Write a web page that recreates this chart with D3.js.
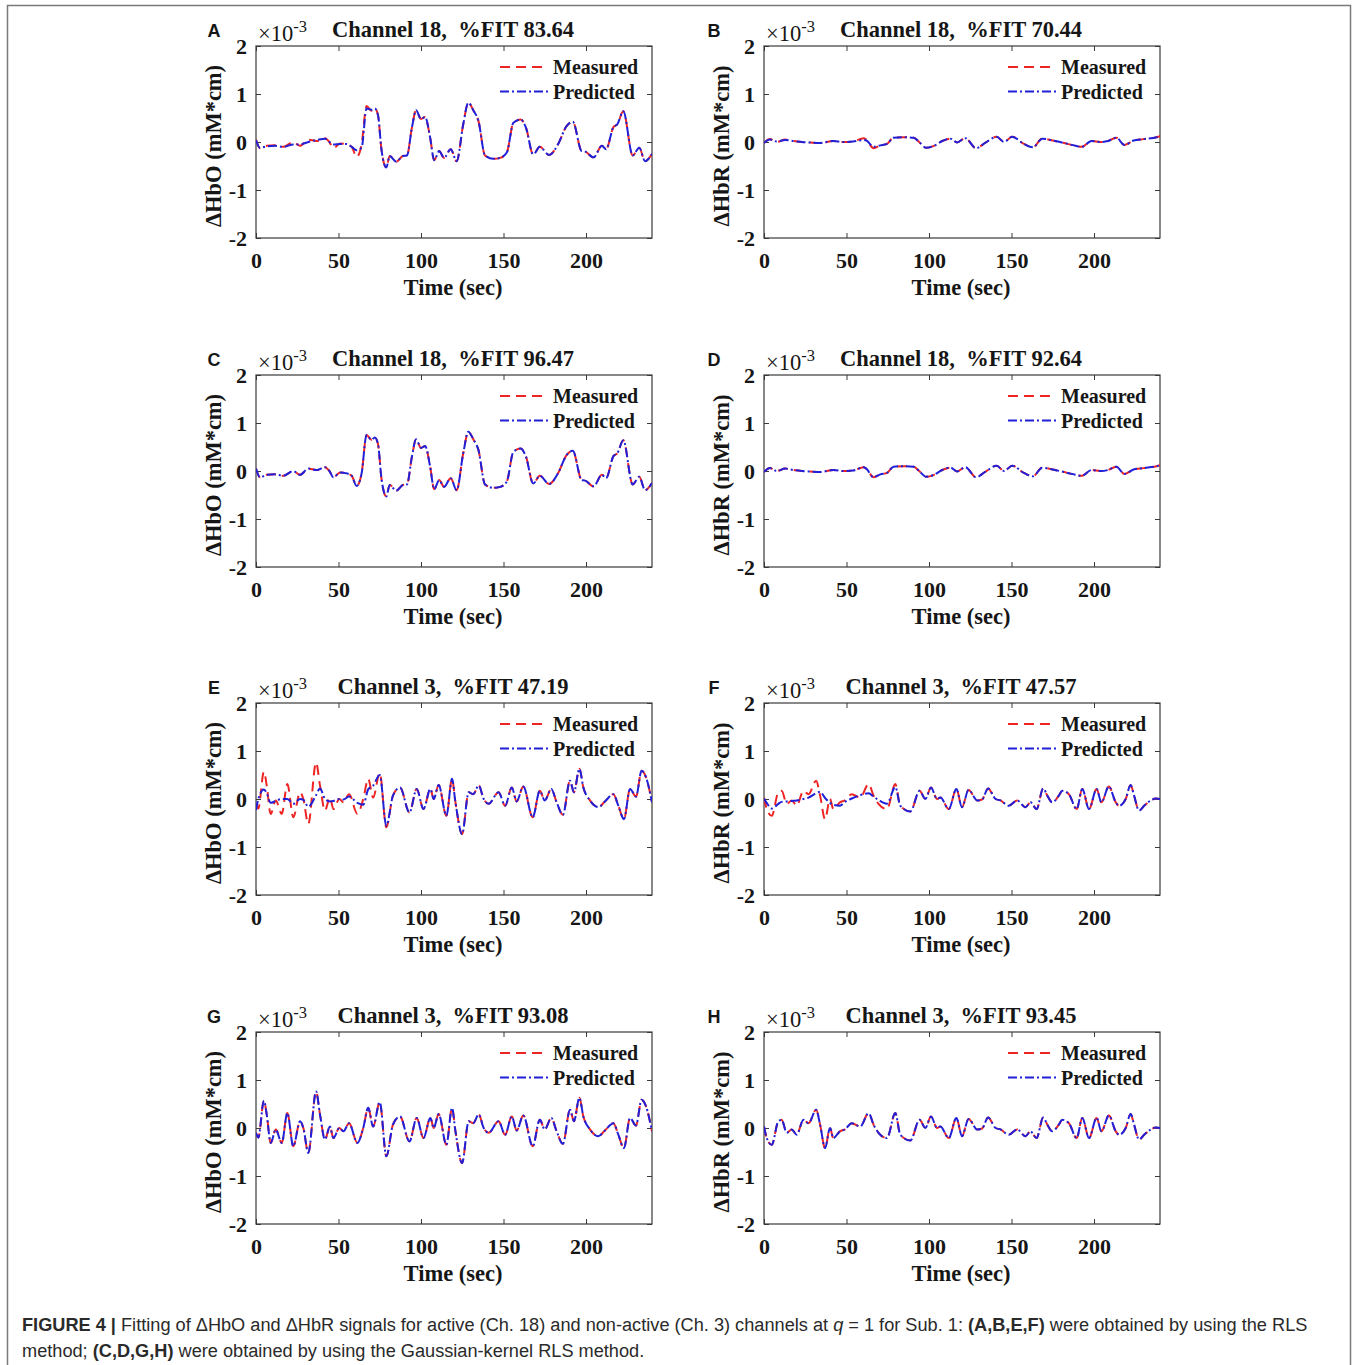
<!DOCTYPE html>
<html><head><meta charset="utf-8">
<script src="https://cdn.jsdelivr.net/npm/d3@7"></script>
<style>body{margin:0;background:#fff} svg{display:block}</style>
</head><body><svg id="c" width="1358" height="1365"></svg>
<script>
// ---------------- DATA ----------------
const xTicks = [0, 50, 100, 150, 200];
const yTicks = [-2, -1, 0, 1, 2];
const seriesNames = ["Measured", "Predicted"];
const panelLetters = ["A", "B", "C", "D", "E", "F", "G", "H"];
const panelTitles = ["Channel 18,  %FIT 83.64", "Channel 18,  %FIT 70.44", "Channel 18,  %FIT 96.47", "Channel 18,  %FIT 92.64",
                     "Channel 3,  %FIT 47.19", "Channel 3,  %FIT 47.57", "Channel 3,  %FIT 93.08", "Channel 3,  %FIT 93.45"];
const yLabels = ["ΔHbO (mM*cm)", "ΔHbR (mM*cm)"];

// Channel 18, ΔHbO (×10^-3)
const ch18HbOTime = [0,2.4,6.5,11.5,16.6,22.6,26.7,31.7,36.8,41.8,44.5,46.9,51,55,58,61,64,67,70,72,74,76,79,81,85,89,91.5,94.5,97,100,102.5,105.5,108,111,114,118,121.6,125.6,128.7,131.7,134.8,138.8,143.8,148,152,156,160.4,163.6,168,172,177.6,183.3,188,192,197.4,199.5,204.6,209.6,212.2,216.6,219,222.6,228.3,232.3,235.8,240];
const ch18HbOMeasured = [0.05,-0.13,-0.08,-0.07,-0.1,0.0,-0.08,0.05,0.02,0.08,0.0,-0.13,-0.03,-0.05,-0.1,-0.31,-0.05,0.75,0.65,0.7,0.55,-0.15,-0.53,-0.29,-0.41,-0.29,-0.28,0.3,0.66,0.48,0.52,0.1,-0.38,-0.19,-0.33,-0.15,-0.4,0.37,0.82,0.66,0.44,-0.28,-0.35,-0.33,-0.22,0.4,0.47,0.3,-0.26,-0.1,-0.27,-0.03,0.32,0.42,-0.19,-0.2,-0.32,-0.08,-0.15,0.31,0.37,0.64,-0.28,-0.12,-0.4,-0.25];
const ch18HbOPredRLS = [0.04,-0.12,-0.09,-0.08,-0.1,-0.05,-0.05,0.0,0.04,0.07,0.0,-0.05,-0.04,-0.04,-0.1,-0.17,-0.12,0.7,0.67,0.7,0.55,-0.15,-0.53,-0.29,-0.41,-0.29,-0.28,0.3,0.66,0.48,0.52,0.1,-0.38,-0.19,-0.33,-0.15,-0.4,0.37,0.82,0.66,0.44,-0.28,-0.35,-0.33,-0.22,0.4,0.47,0.3,-0.26,-0.1,-0.27,-0.03,0.32,0.42,-0.19,-0.2,-0.32,-0.08,-0.15,0.31,0.37,0.64,-0.28,-0.12,-0.4,-0.25];
const ch18HbOPredGK = [0.05,-0.13,-0.08,-0.07,-0.1,0.0,-0.08,0.05,0.02,0.08,0.0,-0.13,-0.03,-0.05,-0.1,-0.31,-0.05,0.75,0.65,0.7,0.55,-0.15,-0.53,-0.29,-0.41,-0.29,-0.28,0.3,0.66,0.48,0.52,0.1,-0.38,-0.19,-0.33,-0.15,-0.4,0.37,0.82,0.66,0.44,-0.28,-0.35,-0.33,-0.22,0.4,0.47,0.3,-0.26,-0.1,-0.27,-0.03,0.32,0.42,-0.19,-0.2,-0.32,-0.08,-0.15,0.31,0.37,0.64,-0.28,-0.12,-0.4,-0.25];

// Channel 18, ΔHbR (×10^-3)
const ch18HbRTime = [0,3.6,7.7,12.8,17.8,23,28,34,42,48,54,60.3,62,66.4,70.5,74.5,78.5,84.6,90.7,94,98.3,103,108,113,117,122,128.5,134,141,145.5,150.4,157.5,163,168.6,175,180.5,186.5,192.5,198.5,204,208.5,213.5,218.5,224,230,238,240];
const ch18HbRMeasured = [-0.02,0.06,0.0,0.05,0.02,0.0,-0.01,-0.02,0.02,0.0,0.01,0.08,0.05,-0.13,-0.07,-0.04,0.09,0.1,0.09,0.0,-0.12,-0.08,0.02,0.07,-0.01,0.08,-0.13,-0.02,0.11,0.0,0.11,-0.04,-0.11,0.07,0.03,-0.01,-0.06,-0.1,0.02,0.0,0.02,0.09,-0.06,0.03,0.06,0.1,0.12];
const ch18HbRPredRLS = [-0.02,0.05,0.01,0.04,0.02,0.0,-0.01,-0.02,0.02,0.0,0.01,0.04,0.03,-0.1,-0.07,-0.04,0.09,0.1,0.09,0.0,-0.12,-0.08,0.02,0.07,-0.01,0.08,-0.13,-0.02,0.11,0.0,0.11,-0.04,-0.11,0.07,0.03,-0.01,-0.06,-0.1,0.02,0.0,0.02,0.09,-0.06,0.03,0.06,0.1,0.12];
const ch18HbRPredGK = [-0.02,0.06,0.0,0.05,0.02,0.0,-0.01,-0.02,0.02,0.0,0.01,0.08,0.05,-0.13,-0.07,-0.04,0.09,0.1,0.09,0.0,-0.12,-0.08,0.02,0.07,-0.01,0.08,-0.13,-0.02,0.11,0.0,0.11,-0.04,-0.11,0.07,0.03,-0.01,-0.06,-0.1,0.02,0.0,0.02,0.09,-0.06,0.03,0.06,0.1,0.12];

// Channel 3, ΔHbO (×10^-3)
const ch3HbOTime = [0,1.4,4.8,6.5,8.9,12,15.6,19,22.6,26.7,28.7,31.7,36.4,38.8,41.8,44.8,46.9,50.5,53,56.4,61.4,65,68,71,75,79,83,87.3,93,97.4,101.5,105.7,107.7,110.7,115.4,118.8,120.8,124.9,128.9,131.6,135,138,141,147,151,155,158,162,167.7,172,175,179,182,186,190.3,192.7,196,198.4,202.4,207.5,211.5,216.6,219.6,223,226.7,230.3,233.7,236.4,240];
const ch3HbOMeasured = [-0.1,-0.2,0.57,0.28,-0.31,-0.03,-0.31,0.31,-0.38,0.14,0.0,-0.52,0.76,0.28,-0.24,0.03,-0.21,0.0,-0.07,0.1,-0.31,0.0,0.42,0.03,0.54,-0.59,0.07,0.24,-0.28,0.21,-0.21,0.21,0.0,0.29,-0.35,0.42,-0.05,-0.73,0.14,0.1,0.28,0.0,-0.1,0.14,-0.14,0.24,-0.05,0.26,-0.38,0.17,-0.03,0.21,-0.05,-0.33,0.38,0.14,0.63,0.24,-0.03,-0.17,-0.05,0.1,-0.14,-0.42,0.21,0.05,0.59,0.45,-0.07];
const ch3HbOPredRLS = [-0.23,0.0,0.2,0.12,-0.08,-0.04,0.0,0.0,-0.1,0.0,-0.02,-0.16,0.08,0.22,0.0,-0.05,-0.04,0.0,-0.01,0.05,-0.08,-0.12,0.2,0.28,0.5,-0.56,0.07,0.24,-0.28,0.21,-0.21,0.21,0.0,0.29,-0.35,0.42,-0.05,-0.73,0.14,0.1,0.28,0.0,-0.1,0.14,-0.14,0.24,-0.05,0.26,-0.38,0.17,-0.03,0.21,-0.05,-0.33,0.38,0.14,0.63,0.24,-0.03,-0.17,-0.05,0.1,-0.14,-0.42,0.21,0.05,0.59,0.45,-0.07];
const ch3HbOPredGK = [-0.1,-0.2,0.57,0.28,-0.31,-0.03,-0.31,0.31,-0.38,0.14,0.0,-0.52,0.76,0.28,-0.24,0.03,-0.21,0.0,-0.07,0.1,-0.31,0.0,0.42,0.03,0.54,-0.59,0.07,0.24,-0.28,0.21,-0.21,0.21,0.0,0.29,-0.35,0.42,-0.05,-0.73,0.14,0.1,0.28,0.0,-0.1,0.14,-0.14,0.24,-0.05,0.26,-0.38,0.17,-0.03,0.21,-0.05,-0.33,0.38,0.14,0.63,0.24,-0.03,-0.17,-0.05,0.1,-0.14,-0.42,0.21,0.05,0.59,0.45,-0.07];

// Channel 3, ΔHbR (×10^-3)
const ch3HbRTime = [0,1.6,4.7,8.7,10.7,13.8,16.8,19.8,23.9,27,31.6,34,37,40,42,46,49,53.2,58.3,63.4,66.4,69.4,74.5,79.6,82.6,88.7,94.3,97.8,101.2,104.9,106.9,112,116.6,120,124,129.2,132.2,135.8,140.3,143.3,148.4,153.4,158.5,161.5,165.2,169.2,171.7,174.7,178.7,180.8,184.8,189.5,192.9,197,201.6,204.5,209,213.2,215.2,219.2,222.2,224.3,227.3,230.4,234.4,237.4,240];
const ch3HbRMeasured = [0.03,-0.2,-0.35,0.14,0.17,-0.1,-0.03,-0.14,0.17,0.1,0.38,0.07,-0.42,0.0,-0.21,-0.07,-0.03,0.1,0.03,0.31,0.07,-0.1,-0.21,0.31,-0.14,-0.26,0.17,0.0,0.24,0.0,0.03,-0.21,0.21,-0.17,0.19,-0.03,-0.01,0.22,0.0,-0.03,-0.14,-0.03,-0.17,-0.07,-0.21,0.22,0.07,-0.07,0.07,0.17,0.1,-0.21,0.21,-0.21,0.21,-0.07,0.26,-0.07,-0.14,0.0,0.29,0.07,-0.24,-0.14,-0.03,0.01,0.0];
const ch3HbRPredRLS = [0.01,-0.08,-0.2,-0.1,-0.06,-0.05,-0.04,-0.03,0.0,0.03,0.12,0.15,0.02,-0.08,-0.12,-0.14,-0.06,0.01,0.08,0.12,0.05,-0.02,-0.1,0.25,-0.14,-0.26,0.17,0.0,0.24,0.0,0.03,-0.21,0.21,-0.17,0.19,-0.03,-0.01,0.22,0.0,-0.03,-0.14,-0.03,-0.17,-0.07,-0.21,0.22,0.07,-0.07,0.07,0.17,0.1,-0.21,0.21,-0.21,0.21,-0.07,0.26,-0.07,-0.14,0.0,0.29,0.07,-0.24,-0.14,-0.03,0.01,0.0];
const ch3HbRPredGK = [0.03,-0.2,-0.35,0.14,0.17,-0.1,-0.03,-0.14,0.17,0.1,0.38,0.07,-0.42,0.0,-0.21,-0.07,-0.03,0.1,0.03,0.31,0.07,-0.1,-0.21,0.31,-0.14,-0.26,0.17,0.0,0.24,0.0,0.03,-0.21,0.21,-0.17,0.19,-0.03,-0.01,0.22,0.0,-0.03,-0.14,-0.03,-0.17,-0.07,-0.21,0.22,0.07,-0.07,0.07,0.17,0.1,-0.21,0.21,-0.21,0.21,-0.07,0.26,-0.07,-0.14,0.0,0.29,0.07,-0.24,-0.14,-0.03,0.01,0.0];

// ---------------- LAYOUT ----------------
const panels = [
  {time: ch18HbOTime, meas: ch18HbOMeasured, pred: ch18HbOPredRLS, col: 0, row: 0, yl: 0},
  {time: ch18HbRTime, meas: ch18HbRMeasured, pred: ch18HbRPredRLS, col: 1, row: 0, yl: 1},
  {time: ch18HbOTime, meas: ch18HbOMeasured, pred: ch18HbOPredGK,  col: 0, row: 1, yl: 0},
  {time: ch18HbRTime, meas: ch18HbRMeasured, pred: ch18HbRPredGK,  col: 1, row: 1, yl: 1},
  {time: ch3HbOTime,  meas: ch3HbOMeasured,  pred: ch3HbOPredRLS,  col: 0, row: 2, yl: 0},
  {time: ch3HbRTime,  meas: ch3HbRMeasured,  pred: ch3HbRPredRLS,  col: 1, row: 2, yl: 1},
  {time: ch3HbOTime,  meas: ch3HbOMeasured,  pred: ch3HbOPredGK,   col: 0, row: 3, yl: 0},
  {time: ch3HbRTime,  meas: ch3HbRMeasured,  pred: ch3HbRPredGK,   col: 1, row: 3, yl: 1}
];
const colLeft = [256, 764];
const rowTop = [46, 375, 703, 1032];
const PW = 396, PH = 192;
const serif = "'Liberation Serif','Times New Roman',serif";
const sans = "'Liberation Sans',Arial,sans-serif";
const RED = "#ee2424", BLUE = "#2020d8";
const INK = "#161616";

const svg = d3.select("#c");
svg.append("rect").attr("width", 1358).attr("height", 1365).attr("fill", "#fff");
// outer frame
svg.append("rect").attr("x", 7.5).attr("y", 5.5).attr("width", 1343).attr("height", 1380)
  .attr("fill", "none").attr("stroke", "#7a7a7a").attr("stroke-width", 1.5);

const defs = svg.append("defs");

panels.forEach((p, i) => {
  const L = colLeft[p.col], T = rowTop[p.row];
  const x = d3.scaleLinear().domain([0, 240]).range([L, L + PW]);
  const y = d3.scaleLinear().domain([-2, 2]).range([T + PH, T]);
  const g = svg.append("g");

  defs.append("clipPath").attr("id", "clip" + i)
    .append("rect").attr("x", L).attr("y", T).attr("width", PW).attr("height", PH);

  // axes
  const fmt = d => String(d);
  const ax = g.append("g").attr("transform", `translate(0,${T + PH})`)
    .call(d3.axisBottom(x).tickValues(xTicks).tickSizeInner(-5).tickSizeOuter(0).tickPadding(14).tickFormat(fmt));
  const ay = g.append("g").attr("transform", `translate(${L},0)`)
    .call(d3.axisLeft(y).tickValues(yTicks).tickSizeInner(-5).tickSizeOuter(0).tickPadding(9).tickFormat(fmt));
  const at = g.append("g").attr("transform", `translate(0,${T})`)
    .call(d3.axisTop(x).tickValues(xTicks).tickSizeInner(-5).tickSizeOuter(0).tickFormat(""));
  const ar = g.append("g").attr("transform", `translate(${L + PW},0)`)
    .call(d3.axisRight(y).tickValues(yTicks).tickSizeInner(-5).tickSizeOuter(0).tickFormat(""));
  [ax, ay, at, ar].forEach(a => {
    a.select(".domain").remove();
    a.selectAll("line").attr("stroke", "#3a3a3a").attr("stroke-width", 1);
    a.selectAll("text").attr("font-family", serif).attr("font-weight", "bold")
      .attr("font-size", 22).attr("fill", INK);
  });
  g.append("rect").attr("x", L).attr("y", T).attr("width", PW).attr("height", PH)
    .attr("fill", "none").attr("stroke", "#3a3a3a").attr("stroke-width", 1.2);

  // lines
  const line = d3.line().x(d => x(d[0])).y(d => y(d[1])).curve(d3.curveMonotoneX);
  const lines = g.append("g").attr("clip-path", `url(#clip${i})`);
  lines.append("path").datum(p.time.map((t, k) => [t, p.meas[k]]))
    .attr("d", line).attr("fill", "none").attr("stroke", RED).attr("stroke-width", 2)
    .attr("stroke-dasharray", "10,6");
  lines.append("path").datum(p.time.map((t, k) => [t, p.pred[k]]))
    .attr("d", line).attr("fill", "none").attr("stroke", BLUE).attr("stroke-width", 2)
    .attr("stroke-dasharray", "9,3,2,3");

  // legend
  const lg = g.append("g");
  [[RED, "10,6"], [BLUE, "9,3,2,3"]].forEach((s, k) => {
    const ly = T + 21 + k * 24.5;
    lg.append("line").attr("x1", L + 244).attr("x2", L + 292).attr("y1", ly).attr("y2", ly)
      .attr("stroke", s[0]).attr("stroke-width", 2).attr("stroke-dasharray", s[1]);
    lg.append("text").attr("x", L + 297).attr("y", ly + 7).text(seriesNames[k])
      .attr("font-family", serif).attr("font-weight", "bold").attr("font-size", 20).attr("fill", INK);
  });

  // title
  g.append("text").attr("x", L + PW / 2 - 1).attr("y", T - 9).attr("text-anchor", "middle")
    .style("white-space", "pre").text(panelTitles[i])
    .attr("font-family", serif).attr("font-weight", "bold").attr("font-size", 22.5).attr("fill", INK);
  // ×10^-3
  const ex = g.append("text").attr("x", L + 2).attr("y", T - 5)
    .attr("font-family", serif).attr("font-size", 22.5).attr("fill", INK);
  ex.append("tspan").text("×10");
  ex.append("tspan").attr("dy", -9).attr("font-size", 16.5).text("-3");
  // panel letter
  g.append("text").attr("x", p.col === 0 ? 214 : 714).attr("y", T - 9).attr("text-anchor", "middle")
    .text(panelLetters[i]).attr("font-family", sans).attr("font-weight", "bold").attr("font-size", 18).attr("fill", INK);
  // x label
  g.append("text").attr("x", L + PW / 2 - 1).attr("y", T + PH + 57).attr("text-anchor", "middle")
    .text("Time (sec)").attr("font-family", serif).attr("font-weight", "bold").attr("font-size", 22.5).attr("fill", INK);
  // y label
  g.append("text").attr("transform", `translate(${L - 35},${T + PH / 2 + 4}) rotate(-90)`).attr("text-anchor", "middle")
    .text(yLabels[p.yl]).attr("font-family", serif).attr("font-weight", "bold").attr("font-size", 22.5).attr("fill", INK);
});

// caption
const cap = svg.append("g").attr("font-family", sans).attr("fill", "#2a2a2a");
const c1 = cap.append("text").attr("x", 22).attr("y", 1331).attr("font-size", 16.5);
c1.append("tspan").attr("font-weight", "bold").text("FIGURE 4 |");
c1.append("tspan").text(" Fitting of ΔHbO and ΔHbR signals for active (Ch. 18) and non-active (Ch. 3) channels at ");
c1.append("tspan").attr("font-style", "italic").text("q");
c1.append("tspan").text(" = 1 for Sub. 1: ");
c1.append("tspan").attr("font-weight", "bold").text("(A,B,E,F)");
c1.append("tspan").text(" were obtained by using the RLS");
const c2 = cap.append("text").attr("x", 22).attr("y", 1357).attr("font-size", 16.5);
c2.append("tspan").text("method; ");
c2.append("tspan").attr("font-weight", "bold").text("(C,D,G,H)");
c2.append("tspan").text(" were obtained by using the Gaussian-kernel RLS method.");
// fit caption width to reference line length
const w1 = c1.node().getComputedTextLength();
const fs = 16.5 * 1286 / w1;
c1.attr("font-size", fs); c2.attr("font-size", fs);
</script></body></html>
